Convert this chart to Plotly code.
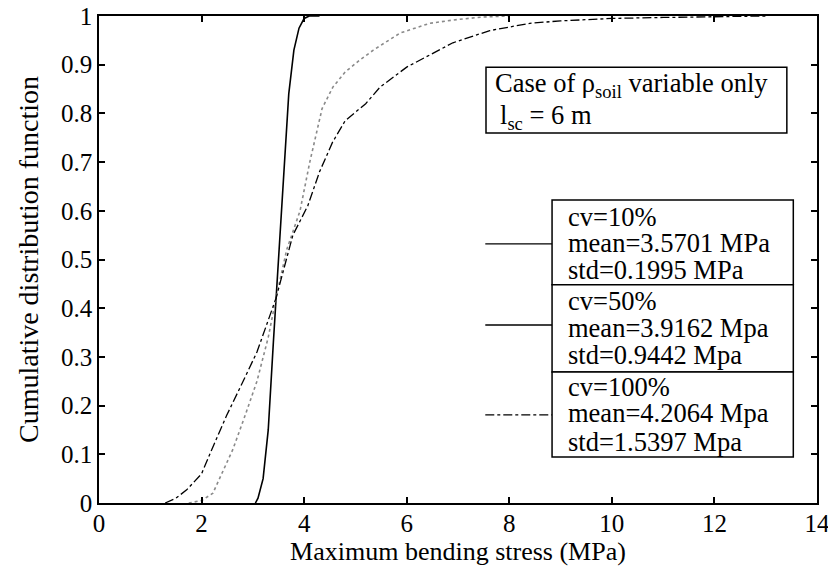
import plotly.graph_objects as go

# ---- data ----
cv10_x = [3.05, 3.1, 3.2, 3.3, 3.4, 3.5, 3.6, 3.7, 3.8, 3.9, 4.0, 4.1, 4.3]
cv10_y = [0.0, 0.01, 0.05, 0.15, 0.33, 0.5, 0.66, 0.84, 0.93, 0.975, 0.995, 1.0, 1.0]

cv50_x = [1.75, 2.0, 2.22, 2.4, 2.61, 2.85, 3.08, 3.3, 3.45, 3.66, 3.92, 4.11, 4.35,
          4.56, 4.8, 5.09, 5.35, 5.87, 6.45, 7.0, 7.5, 8.0]
cv50_y = [0.0, 0.005, 0.02, 0.06, 0.11, 0.18, 0.25, 0.34, 0.42, 0.52, 0.60, 0.70, 0.81,
          0.854, 0.885, 0.91, 0.93, 0.965, 0.985, 0.993, 0.998, 1.0]

cv100_x = [1.29, 1.5, 1.71, 2.0, 2.2, 2.49, 2.81, 3.08, 3.45, 3.78, 4.07, 4.3, 4.55,
           4.8, 5.2, 5.48, 6.0, 6.45, 6.9, 7.62, 8.4, 9.0, 10.0, 11.0, 12.0, 13.0]
cv100_y = [0.0, 0.01, 0.027, 0.06, 0.11, 0.18, 0.25, 0.31, 0.42, 0.55, 0.61, 0.68, 0.74,
           0.785, 0.82, 0.854, 0.895, 0.92, 0.945, 0.97, 0.985, 0.99, 0.995, 0.997, 0.998, 1.0]

x_ticks = [0, 2, 4, 6, 8, 10, 12, 14]
y_ticks = [0, 0.1, 0.2, 0.3, 0.4, 0.5, 0.6, 0.7, 0.8, 0.9, 1.0]
y_ticktext = ["0", "0.1", "0.2", "0.3", "0.4", "0.5", "0.6", "0.7", "0.8", "0.9", "1"]

legend_blocks = [
    ["cv=10%", "mean=3.5701 MPa", "std=0.1995 MPa"],
    ["cv=50%", "mean=3.9162 Mpa", "std=0.9442 Mpa"],
    ["cv=100%", "mean=4.2064 Mpa", "std=1.5397 Mpa"],
]
case_lines = ["Case of ρ<sub>soil</sub> variable only", "l<sub>sc</sub> = 6 m"]

FONT = "Liberation Serif"
TICK = 25
LEG = 26.5

fig = go.Figure()
fig.add_trace(go.Scatter(x=cv10_x, y=cv10_y, mode="lines",
                         line=dict(color="black", width=1.6, dash="solid"), name="cv=10%"))
fig.add_trace(go.Scatter(x=cv50_x, y=cv50_y, mode="lines",
                         line=dict(color="#8a8a8a", width=1.6, dash="dot"), name="cv=50%"))
fig.add_trace(go.Scatter(x=cv100_x, y=cv100_y, mode="lines",
                         line=dict(color="black", width=1.3, dash="dashdot"), name="cv=100%"))

shapes = []
# case box
shapes.append(dict(type="rect", xref="paper", yref="paper", x0=0.539, x1=0.958, y0=0.760, y1=0.895,
                   line=dict(color="black", width=1.5), fillcolor="white", layer="above"))
# legend boxes
box_edges = [0.622, 0.448, 0.269, 0.0945]
for i in range(3):
    shapes.append(dict(type="rect", xref="paper", yref="paper", x0=0.631, x1=0.967,
                       y0=box_edges[i + 1], y1=box_edges[i],
                       line=dict(color="black", width=1.5), fillcolor="white", layer="above"))
# legend sample lines
sample_y = [0.532, 0.3655, 0.181]
sample_dash = ["solid", "solid", "dashdot"]
for yy, dd in zip(sample_y, sample_dash):
    shapes.append(dict(type="line", xref="paper", yref="paper", x0=0.538, x1=0.631, y0=yy, y1=yy,
                       line=dict(color="black", width=1.3, dash=dd)))

annotations = []
text_y = [[0.587, 0.534, 0.479], [0.415, 0.359, 0.304], [0.238, 0.185, 0.125]]
for block, ys in zip(legend_blocks, text_y):
    for txt, yy in zip(block, ys):
        annotations.append(dict(text=txt, xref="paper", yref="paper", x=0.651, y=yy,
                                xanchor="left", yanchor="middle", showarrow=False,
                                font=dict(family=FONT, size=LEG, color="black")))
annotations.append(dict(text=case_lines[0], xref="paper", yref="paper", x=0.549, y=0.858,
                        xanchor="left", yanchor="middle", showarrow=False,
                        font=dict(family=FONT, size=LEG, color="black")))
annotations.append(dict(text=case_lines[1], xref="paper", yref="paper", x=0.556, y=0.793,
                        xanchor="left", yanchor="middle", showarrow=False,
                        font=dict(family=FONT, size=LEG, color="black")))

# the page body has an 8px default margin, so the figure is offset by 8px
fig.update_layout(
    width=828, height=567,
    margin=dict(l=91, r=19, t=8, b=72),
    paper_bgcolor="white", plot_bgcolor="white",
    showlegend=False,
    font=dict(family=FONT, size=TICK, color="black"),
    shapes=shapes, annotations=annotations,
    xaxis=dict(range=[0, 14], tickvals=x_ticks, ticks="inside", ticklen=6, tickwidth=1.5,
               tickcolor="black", showline=True, linecolor="black", linewidth=1.5,
               mirror="ticks", showgrid=False, zeroline=False, automargin=False,
               tickfont=dict(family=FONT, size=TICK), ticklabeloverflow="allow",
               ticklabelstandoff=-3,
               title=dict(text="Maximum bending stress (MPa)", standoff=2,
                          font=dict(family=FONT, size=26))),
    yaxis=dict(range=[0, 1], tickvals=y_ticks, ticktext=y_ticktext, ticks="inside", ticklen=6,
               tickwidth=1.5, tickcolor="black", showline=True, linecolor="black", linewidth=1.5,
               mirror="ticks", showgrid=False, zeroline=False, automargin=False,
               tickfont=dict(family=FONT, size=TICK), ticklabeloverflow="allow",
               title=dict(text="Cumulative distribution function", standoff=14,
                          font=dict(family=FONT, size=28))),
)

fig.write_html("out.html")
